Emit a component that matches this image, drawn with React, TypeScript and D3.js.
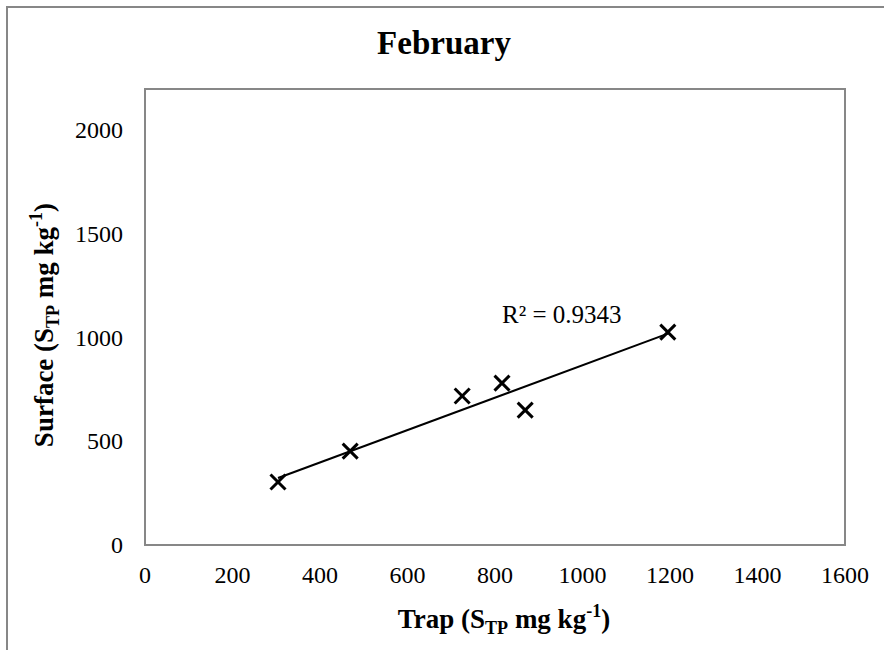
import React from "react";
import * as d3 from "d3";

const trapValues = [304, 469, 725, 816, 869, 1195];
const surfaceValues = [304, 453, 719, 781, 651, 1027];
const xTicks = [0, 200, 400, 600, 800, 1000, 1200, 1400, 1600];
const yTicks = [0, 500, 1000, 1500, 2000];
const titleText = "February";
const r2Label = "R² = 0.9343";

const W = 884;
const H = 650;
const plot = { left: 145, right: 845, top: 89, bottom: 545 };
const FONT = "'Liberation Serif', 'Times New Roman', serif";
const GRAY = "#878787";

export default function App() {
  const x = d3.scaleLinear().domain([0, 1600]).range([plot.left, plot.right]);
  const y = d3.scaleLinear().domain([0, 2200]).range([plot.bottom, plot.top]);

  const pts = trapValues.map((v, i) => ({ x: v, y: surfaceValues[i] }));
  const mx = d3.mean(trapValues) as number;
  const my = d3.mean(surfaceValues) as number;
  let sxy = 0, sxx = 0;
  pts.forEach((p) => {
    sxy += (p.x - mx) * (p.y - my);
    sxx += (p.x - mx) * (p.x - mx);
  });
  const slope = sxy / sxx;
  const intercept = my - slope * mx;
  const xMin = d3.min(trapValues) as number;
  const xMax = d3.max(trapValues) as number;
  const line = d3
    .line<number>()
    .x((d) => x(d))
    .y((d) => y(slope * d + intercept));

  const m = 7.5;

  return (
    <svg
      width={W}
      height={H}
      style={{ position: "absolute", left: 0, top: 0, background: "#fff" }}
      fontFamily={FONT}
    >
      <rect x={0} y={0} width={W} height={H} fill="#fff" />
      {/* outer frame (extends past the right & bottom edges) */}
      <rect x={7} y={7} width={W + 20} height={H + 20} fill="none" stroke={GRAY} strokeWidth={2} />

      <text x={444} y={54} textAnchor="middle" fontSize={33} fontWeight="bold" fill="#000">
        {titleText}
      </text>

      {/* plot area border */}
      <rect
        x={plot.left}
        y={plot.top}
        width={plot.right - plot.left}
        height={plot.bottom - plot.top}
        fill="none"
        stroke={GRAY}
        strokeWidth={2}
      />

      {/* y tick labels */}
      {yTicks.map((t) => (
        <text key={"y" + t} x={123} y={y(t) + 8} textAnchor="end" fontSize={24} fill="#000">
          {t}
        </text>
      ))}
      {/* x tick labels */}
      {xTicks.map((t) => (
        <text key={"x" + t} x={x(t)} y={583} textAnchor="middle" fontSize={24} fill="#000">
          {t}
        </text>
      ))}

      {/* trendline */}
      <path d={line([xMin, xMax]) || ""} fill="none" stroke="#000" strokeWidth={2} />

      {/* markers */}
      {pts.map((p, i) => (
        <g key={i} transform={`translate(${x(p.x)},${y(p.y)})`} stroke="#000" strokeWidth={3}>
          <line x1={-m} y1={-m} x2={m} y2={m} />
          <line x1={-m} y1={m} x2={m} y2={-m} />
        </g>
      ))}

      <text x={502} y={323} fontSize={25} fill="#000">
        {r2Label}
      </text>

      {/* x axis title */}
      <text x={504} y={628} textAnchor="middle" fontSize={27} fontWeight="bold" fill="#000">
        <tspan>Trap (S</tspan>
        <tspan fontSize={18} dy={6}>TP</tspan>
        <tspan dy={-6}> mg kg</tspan>
        <tspan fontSize={18} dy={-11}>-1</tspan>
        <tspan dy={11}>)</tspan>
      </text>

      {/* y axis title */}
      <text
        transform={`translate(53,325) rotate(-90)`}
        textAnchor="middle"
        fontSize={27}
        fontWeight="bold"
        fill="#000"
      >
        <tspan>Surface (S</tspan>
        <tspan fontSize={18} dy={6}>TP</tspan>
        <tspan dy={-6}> mg kg</tspan>
        <tspan fontSize={18} dy={-11}>-1</tspan>
        <tspan dy={11}>)</tspan>
      </text>
    </svg>
  );
}
